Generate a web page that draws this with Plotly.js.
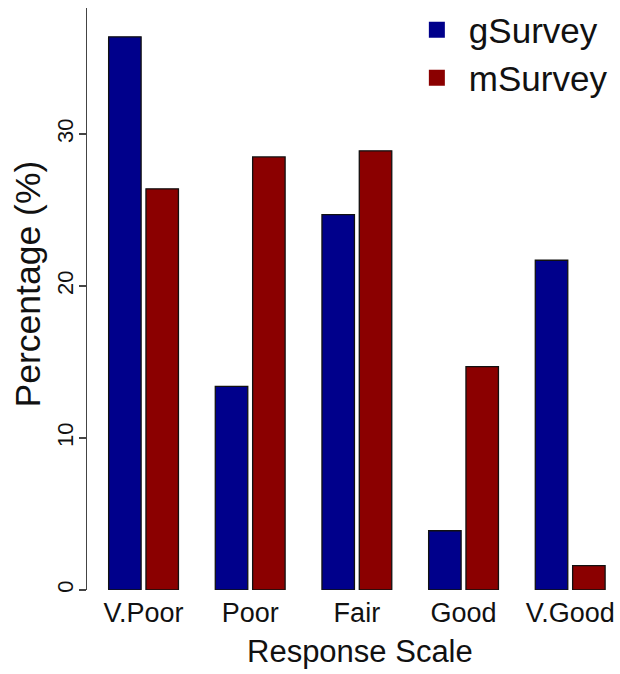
<!DOCTYPE html>
<html>
<head>
<meta charset="utf-8">
<script src="https://cdn.plot.ly/plotly-3.0.1.min.js"></script>
<style>html,body{margin:0;padding:0;background:#fff;}#chart{width:620px;height:674px;}</style>
</head>
<body>
<div id="chart"></div>
<script>
const categories = ["V.Poor", "Poor", "Fair", "Good", "V.Good"];
const gSurvey = [36.4, 13.4, 24.7, 3.9, 21.7];
const mSurvey = [26.4, 28.5, 28.9, 14.7, 1.6];
const seriesNames = ["gSurvey", "mSurvey"];
const seriesColors = ["#00008B", "#8B0000"];
const yTicks = [0, 10, 20, 30];
const xTitle = "Response Scale";
const yTitle = "Percentage (%)";

const font = "Liberation Sans, Arial, Helvetica, sans-serif";

const traces = [
  {type: "bar", name: seriesNames[0], x: categories, y: gSurvey, showlegend: false,
   marker: {color: seriesColors[0], line: {color: "#111", width: 1.3}}},
  {type: "bar", name: seriesNames[1], x: categories, y: mSurvey, showlegend: false,
   marker: {color: seriesColors[1], line: {color: "#111", width: 1.3}}},
  // legend entries (no data drawn)
  {type: "scatter", mode: "markers", name: seriesNames[0], x: [null], y: [null],
   legend: "legend", hoverinfo: "skip",
   marker: {symbol: "square", size: 16, color: seriesColors[0]}},
  {type: "scatter", mode: "markers", name: seriesNames[1], x: [null], y: [null],
   legend: "legend2", hoverinfo: "skip",
   marker: {symbol: "square", size: 16, color: seriesColors[1]}}
];

const legendFont = {size: 35, family: font, color: "#111"};
const layout = {
  width: 620, height: 674,
  margin: {l: 87, r: 5, t: 8, b: 84, autoexpand: false},
  paper_bgcolor: "#fff", plot_bgcolor: "#fff",
  font: {family: font, color: "#111"},
  barmode: "group", bargap: 0.3, bargroupgap: 0.13,
  showlegend: true,
  legend: {x: 0.602, y: 0.9622, xanchor: "left", yanchor: "middle", itemwidth: 54,
           font: legendFont, bgcolor: "rgba(0,0,0,0)"},
  legend2: {x: 0.602, y: 0.8797, xanchor: "left", yanchor: "middle", itemwidth: 54,
           font: legendFont, bgcolor: "rgba(0,0,0,0)"},
  xaxis: {type: "category", range: [-0.53, 4.42], showline: false, showgrid: false,
          zeroline: false, ticks: "", ticklabelstandoff: 4,
          tickfont: {size: 27, family: font, color: "#111"}},
  yaxis: {range: [0, 38.3], showline: true, linecolor: "#444", linewidth: 1.5,
          showgrid: false, zeroline: false, ticks: "outside", ticklen: 7, tickwidth: 1.5,
          tickcolor: "#444", tickvals: yTicks, ticktext: yTicks.map(String), tickangle: -90,
          ticklabelstandoff: -3,
          tickfont: {size: 22, family: font, color: "#111"}},
  annotations: [
    {text: xTitle, xref: "paper", yref: "paper", x: 0.517, y: -0.1065,
     xanchor: "center", yanchor: "middle", showarrow: false,
     font: {size: 31, family: font, color: "#111"}},
    {text: yTitle, xref: "paper", yref: "paper", x: -0.111, y: 0.5258, textangle: -90,
     xanchor: "center", yanchor: "middle", showarrow: false,
     font: {size: 35.5, family: font, color: "#111"}}
  ]
};

Plotly.newPlot("chart", traces, layout, {staticPlot: true, displayModeBar: false});
</script>
</body>
</html>
